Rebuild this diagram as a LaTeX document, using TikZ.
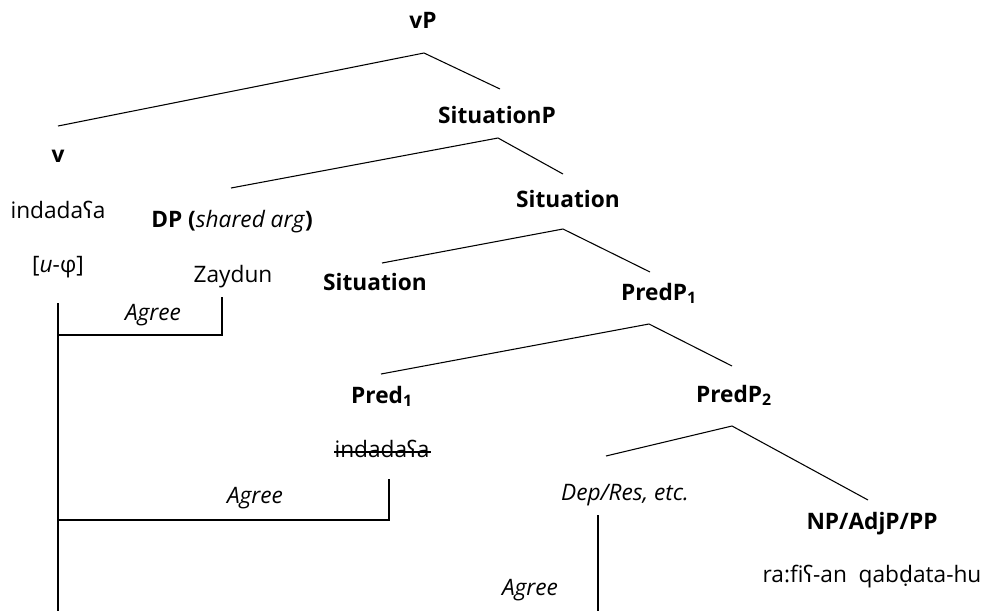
\documentclass[tikz,border=0pt]{standalone}
\usepackage{fontspec}
\setmainfont{Open Sans}
\newfontfamily\ipafont{Noto Sans}
\newcommand{\ayn}{{\ipafont ʕ}}
\newcommand{\dd}{{\ipafont ḍ}}
\usetikzlibrary{calc}
\begin{document}
\begin{tikzpicture}[x=0.75pt,y=-0.75pt,
  lbl/.style={inner sep=0pt,anchor=base,font=\fontsize{17}{20}\selectfont},
  branch/.style={line width=0.8pt},
  agree/.style={line width=1.6pt}]
\useasboundingbox (0,0) rectangle (985,611);
% labels
\node[lbl] (vP) at (423,28) {\textbf{vP}};
\node[lbl] (SitP) at (497,123) {\textbf{SituationP}};
\node[lbl] (v) at (58,162) {\textbf{v}};
\node[lbl] (vword) at (58,218) {indada\ayn a};
\node[lbl] (vfeat) at (58,272) {[\textit{u}-φ]};
\node[lbl] (DP) at (232,227) {\textbf{DP (}\textit{shared arg}\textbf{)}};
\node[lbl] (Zaydun) at (233,282) {Zaydun};
\node[lbl] (SitBar) at (568,207) {\textbf{Situation}};
\node[lbl] (SitHead) at (375,290) {\textbf{Situation}};
\node[lbl] (PredP1) at (659,300) {\textbf{PredP\textsubscript{1}}};
\node[lbl] (Pred1) at (382,403) {\textbf{Pred\textsubscript{1}}};
\node[lbl] (Pred1w) at (382,457) {indada\ayn a};
\node[lbl] (PredP2) at (734,402) {\textbf{PredP\textsubscript{2}}};
\node[lbl] (Dep) at (625,500) {\textit{Dep/Res, etc.}};
\node[lbl] (NP) at (872,529) {\textbf{NP/AdjP/PP}};
\node[lbl] (NPw) at (872,582) {ra:fi\ayn-an\ \ qab\dd ata-hu};
\node[lbl] (ag1) at (153,320) {\textit{Agree}};
\node[lbl] (ag2) at (255,503) {\textit{Agree}};
\node[lbl] (ag3) at (530,595) {\textit{Agree}};
% strike-through
\draw[line width=0.8pt] ($(Pred1w.base west)+(0,-5)$) -- ($(Pred1w.base east)+(1,-5)$);
% branch coordinates
\coordinate (vPtop) at (424,53);
\coordinate (vPl) at (58,126);
\coordinate (vPr) at (500,89);
\coordinate (SPtop) at (498,138);
\coordinate (SPl) at (231,188);
\coordinate (SPr) at (563,174);
\coordinate (Stop) at (563,229);
\coordinate (Sl) at (382,263);
\coordinate (Sr) at (650,272);
\coordinate (P1top) at (649,324);
\coordinate (P1l) at (381,374);
\coordinate (P1r) at (732,366);
\coordinate (P2top) at (732,426);
\coordinate (P2l) at (606,456);
\coordinate (P2r) at (868,500);
\draw[branch] (vPl) -- (vPtop) -- (vPr);
\draw[branch] (SPl) -- (SPtop) -- (SPr);
\draw[branch] (Sl) -- (Stop) -- (Sr);
\draw[branch] (P1l) -- (P1top) -- (P1r);
\draw[branch] (P2l) -- (P2top) -- (P2r);
% agree lines
\coordinate (vA) at (58,303);
\coordinate (vB) at (58,611);
\coordinate (vC1) at (58,335);
\coordinate (DPA) at (222,297);
\coordinate (vC2) at (58,520);
\coordinate (PrA) at (389,479);
\coordinate (DepA) at (598,515);
\coordinate (DepB) at (598,611);
\draw[agree] (vA) -- (vB);
\draw[agree] (vC1) -| (DPA);
\draw[agree] (vC2) -| (PrA);
\draw[agree] (DepA) -- (DepB);
\end{tikzpicture}
\end{document}
